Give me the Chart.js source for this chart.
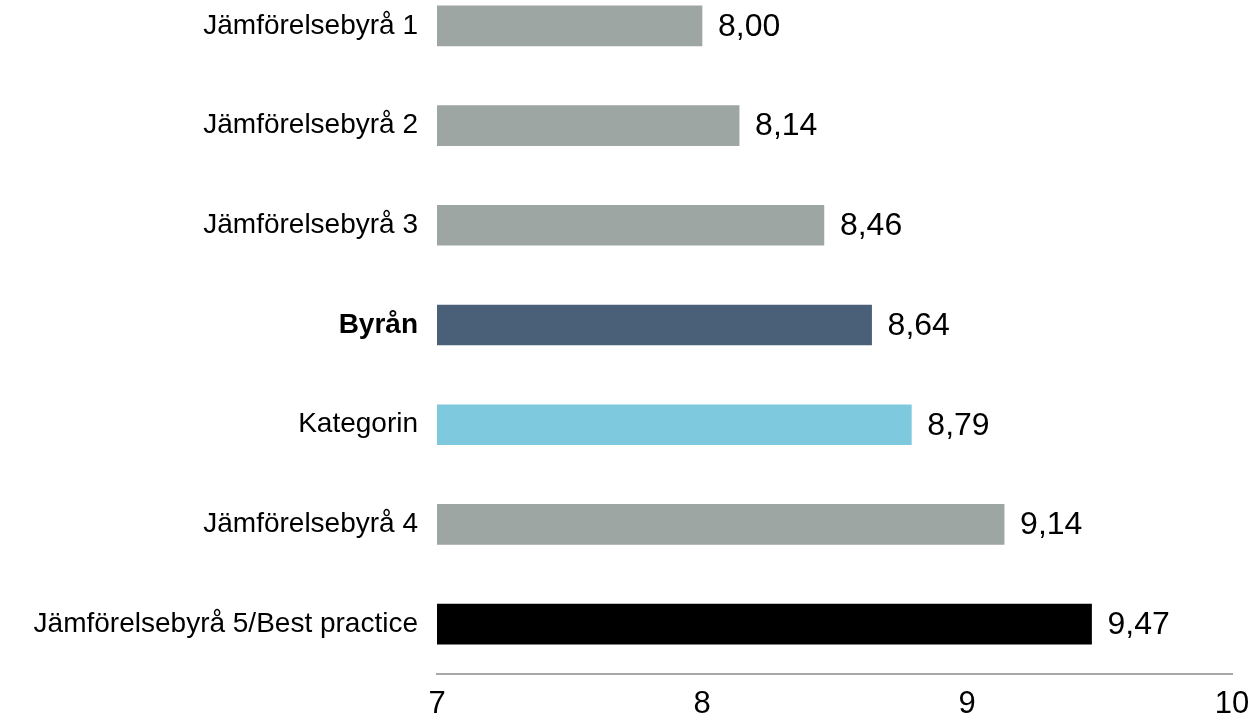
<!DOCTYPE html>
<html lang="sv">
<head>
<meta charset="utf-8">
<title>Jämförelse byråer</title>
<script src="https://cdn.jsdelivr.net/npm/chart.js@4/dist/chart.umd.min.js"></script>
<style>
  html, body { margin: 0; padding: 0; background: #fff; overflow: hidden; }
  #wrap { position: absolute; left: 0; top: -24px; width: 1258px; height: 760px; }
</style>
</head>
<body>
<div id="wrap"><canvas id="byraChart"></canvas></div>
<script>
// Kategorier och värden
const etiketter = [
  "Jämförelsebyrå 1",
  "Jämförelsebyrå 2",
  "Jämförelsebyrå 3",
  "Byrån",
  "Kategorin",
  "Jämförelsebyrå 4",
  "Jämförelsebyrå 5/Best practice",
];
const varden = [8.0, 8.14, 8.46, 8.64, 8.79, 9.14, 9.47];
const farger = ["#9ea6a3", "#9ea6a3", "#9ea6a3", "#4a6079", "#7fc9de", "#9ea6a3", "#000000"];
const xTicks = [7, 8, 9, 10];

const FONT = "'Liberation Sans', Arial, Helvetica, sans-serif";

// Skriver värdet till höger om varje stapel
const vardeEtiketter = {
  id: "vardeEtiketter",
  afterDatasetsDraw(chart) {
    const ctx = chart.ctx;
    const meta = chart.getDatasetMeta(0);
    ctx.save();
    ctx.font = "32px " + FONT;
    ctx.fillStyle = "#000";
    ctx.textAlign = "left";
    ctx.textBaseline = "middle";
    meta.data.forEach((bar, i) => {
      const txt = varden[i].toFixed(2).replace(".", ",");
      ctx.fillText(txt, bar.x + 16, bar.y + 1);
    });
    ctx.restore();
  },
};

let ctx = document.getElementById("byraChart").getContext("2d");
let byraChart = new Chart(ctx, {
  type: "bar",
  data: {
    labels: etiketter,
    datasets: [
      {
        data: varden,
        backgroundColor: farger,
        borderWidth: 0,
        barThickness: 40,
      },
    ],
  },
  options: {
    indexAxis: "y",
    responsive: true,
    maintainAspectRatio: false,
    animation: false,
    base: 7,
    layout: { padding: { left: 0, right: 26, top: 0, bottom: 0 } },
    plugins: {
      legend: { display: false },
      tooltip: { enabled: false },
    },
    scales: {
      x: {
        min: 7,
        max: 10,
        afterFit(scale) {
          scale.height = 62;
          scale.paddingLeft = 0;
          scale.paddingRight = 0;
        },
        afterBuildTicks(scale) {
          scale.ticks = xTicks.map((v) => ({ value: v }));
        },
        grid: { display: false, drawTicks: false },
        border: { display: true, color: "#a8a8a8", width: 2 },
        ticks: {
          padding: 12,
          color: "#000",
          font: { family: FONT, size: 31 },
          maxRotation: 0,
        },
      },
      y: {
        afterFit(scale) {
          scale.width = 437;
          scale.paddingTop = 0;
          scale.paddingBottom = 0;
        },
        grid: { display: false, drawTicks: false },
        border: { display: false },
        ticks: {
          padding: 19,
          color: "#000",
          autoSkip: false,
          font: (c) => ({
            family: FONT,
            size: 28,
            weight: c.index === 3 ? "bold" : "normal",
          }),
        },
      },
    },
  },
  plugins: [vardeEtiketter],
});
</script>
</body>
</html>
